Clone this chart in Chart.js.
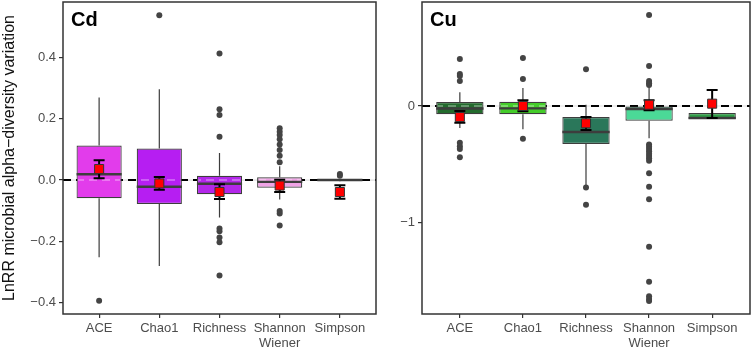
<!DOCTYPE html>
<html>
<head>
<meta charset="utf-8">
<script src="https://cdn.jsdelivr.net/npm/chart.js@4.4.0/dist/chart.umd.min.js"></script>
<style>
  body { margin: 0; background: #fff; }
  canvas { position: absolute; top: 0; }
  #cdChart { left: 0; }
  #cuChart { left: 380px; }
</style>
</head>
<body>
<canvas id="cdChart" width="380" height="352"></canvas>
<canvas id="cuChart" width="371" height="352"></canvas>
<script>
// categories shared by both panels
const categories = ['ACE', 'Chao1', 'Richness', 'Shannon Wiener', 'Simpson'];

// Cd panel
const cdTicks = [-0.4, -0.2, 0, 0.2, 0.4];
const cdQ1 = [-0.059, -0.078, -0.046, -0.025, -0.002];
const cdMedian = [0.019, -0.022, -0.012, -0.006, 0.0];
const cdQ3 = [0.113, 0.103, 0.014, 0.009, 0.001];
const cdWhiskerLow = [-0.252, -0.280, -0.122, -0.063, -0.004];
const cdWhiskerHigh = [0.269, 0.296, 0.088, 0.045, 0.003];
const cdOutliers = [
    [-0.394],
    [0.538],
    [0.413, 0.231, 0.212, 0.141, -0.158, -0.167, -0.187, -0.203, -0.311],
    [0.169, 0.158, 0.147, 0.133, 0.116, 0.098, 0.079, 0.058, -0.101, -0.109, -0.148],
    [0.020, 0.014]
];
const cdMean = [0.036, -0.011, -0.039, -0.018, -0.039];
const cdErrLow = [0.006, -0.032, -0.062, -0.039, -0.061];
const cdErrHigh = [0.065, 0.010, -0.014, 0.001, -0.017];

// Cu panel
const cuTicks = [-1, 0];
const cuQ1 = [-0.071, -0.071, -0.327, -0.126, -0.112];
const cuMedian = [-0.022, -0.020, -0.224, -0.026, -0.103];
const cuQ3 = [0.034, 0.037, -0.095, 0.0, -0.060];
const cuWhiskerLow = [-0.19, -0.20, -0.69, -0.278, -0.112];
const cuWhiskerHigh = [0.118, 0.155, 0.011, 0.161, -0.060];
const cuOutliers = [
    [0.404, 0.275, 0.258, 0.215, -0.315, -0.345, -0.37, -0.441],
    [0.413, 0.232, -0.281],
    [0.315, -0.70, -0.849],
    [0.782, 0.344, 0.215, 0.195, 0.18, -0.33, -0.35, -0.37, -0.39, -0.41, -0.43, -0.45, -0.47,
     -0.579, -0.694, -0.802, -1.21, -1.51, -1.636, -1.66, -1.677],
    []
];
const cuMean = [-0.095, 0.0, -0.149, 0.011, 0.020];
const cuErrLow = [-0.143, -0.046, -0.206, -0.037, -0.103];
const cuErrHigh = [-0.043, 0.049, -0.095, 0.049, 0.138];

const FONT = "'Liberation Sans', Arial, sans-serif";
const LINE = '#3d3d3d';

const fmtMinus = (s) => s.replace('-', '\u2212');

// draws zero line, whiskers, medians, error bars, frame and panel tag
const makeDecor = (p) => ({
    id: 'decor_' + p.tag,
    beforeDatasetsDraw(chart) {
        const {ctx, chartArea: a, scales: {y}} = chart;
        const y0 = y.getPixelForValue(0);
        ctx.save();
        ctx.strokeStyle = 'rgba(205,205,205,0.6)';
        ctx.lineWidth = 1.2;
        ctx.beginPath(); ctx.moveTo(a.left, y0); ctx.lineTo(a.right, y0); ctx.stroke();
        ctx.setLineDash([8, 5]);
        ctx.strokeStyle = '#000';
        ctx.lineWidth = 2;
        ctx.beginPath(); ctx.moveTo(a.left, y0); ctx.lineTo(a.right, y0); ctx.stroke();
        ctx.restore();
    },
    afterDatasetDraw(chart, args) {
        const {ctx, scales: {y}} = chart;
        const bars = chart.getDatasetMeta(0).data;
        ctx.save();
        if (args.index === 0) {
            const y0 = y.getPixelForValue(0);
            bars.forEach((bar, i) => {
                const half = bar.width / 2;
                const top = y.getPixelForValue(p.q3[i]);
                const bottom = y.getPixelForValue(p.q1[i]);
                // faint dashed zero line seen through the box
                ctx.save();
                ctx.beginPath();
                ctx.rect(bar.x - half + 1, top + 1, bar.width - 2, bottom - top - 2);
                ctx.clip();
                ctx.setLineDash([8, 5]);
                ctx.strokeStyle = 'rgba(255,255,255,0.3)';
                ctx.lineWidth = 2;
                ctx.beginPath(); ctx.moveTo(chart.chartArea.left, y0); ctx.lineTo(chart.chartArea.right, y0); ctx.stroke();
                ctx.restore();
                // whiskers
                ctx.strokeStyle = LINE;
                ctx.lineWidth = 1.2;
                ctx.beginPath();
                ctx.moveTo(bar.x, top); ctx.lineTo(bar.x, y.getPixelForValue(p.hi[i]));
                ctx.moveTo(bar.x, bottom); ctx.lineTo(bar.x, y.getPixelForValue(p.lo[i]));
                ctx.stroke();
                // median
                const ym = y.getPixelForValue(p.med[i]);
                ctx.lineWidth = 2.4;
                ctx.beginPath(); ctx.moveTo(bar.x - half, ym); ctx.lineTo(bar.x + half, ym); ctx.stroke();
            });
        }
        if (args.index === 1) {
            // error bars round the means
            ctx.strokeStyle = '#000';
            ctx.lineWidth = 2;
            bars.forEach((bar, i) => {
                const yl = y.getPixelForValue(p.errLo[i]);
                const yh = y.getPixelForValue(p.errHi[i]);
                ctx.beginPath();
                ctx.moveTo(bar.x, yl); ctx.lineTo(bar.x, yh);
                ctx.moveTo(bar.x - 5.5, yl); ctx.lineTo(bar.x + 5.5, yl);
                ctx.moveTo(bar.x - 5.5, yh); ctx.lineTo(bar.x + 5.5, yh);
                ctx.stroke();
            });
        }
        ctx.restore();
    },
    afterDraw(chart) {
        const {ctx, chartArea: a} = chart;
        ctx.save();
        ctx.strokeStyle = '#333';
        ctx.lineWidth = 1.5;
        ctx.strokeRect(a.left, a.top, a.right - a.left, a.bottom - a.top);
        ctx.fillStyle = '#000';
        ctx.font = 'bold 20px ' + FONT;
        ctx.textBaseline = 'alphabetic';
        ctx.fillText(p.tag, a.left + 8, a.top + 23.5);
        ctx.restore();
    }
});

const setupPanel = (canvasId, p) => {
    const canvas = document.getElementById(canvasId);
    const boxes = categories.map((c, i) => ({x: i, y: [p.q1[i], p.q3[i]]}));
    const outliers = [];
    p.outliers.forEach((list, i) => list.forEach(v => outliers.push({x: i, y: v})));
    const means = p.mean.map((v, i) => ({x: i, y: v}));

    return new Chart(canvas.getContext('2d'), {
        type: 'bar',
        data: {
            datasets: [
                {
                    type: 'bar',
                    data: boxes,
                    backgroundColor: p.colors,
                    borderColor: LINE,
                    borderWidth: 1.2,
                    borderSkipped: false,
                    categoryPercentage: 1,
                    barPercentage: 0.75,
                    order: 3
                },
                {
                    type: 'scatter',
                    data: outliers,
                    pointRadius: 3,
                    pointBackgroundColor: '#444',
                    pointBorderWidth: 0,
                    order: 2
                },
                {
                    type: 'scatter',
                    data: means,
                    pointStyle: 'rect',
                    pointRadius: 6.4,
                    pointBackgroundColor: '#ff0000',
                    pointBorderColor: '#333',
                    pointBorderWidth: 1,
                    order: 1
                }
            ]
        },
        options: {
            responsive: false,
            animation: false,
            devicePixelRatio: 1,
            layout: {autoPadding: false, padding: {left: 0, right: p.padRight, top: 2, bottom: 0}},
            plugins: {legend: {display: false}, tooltip: {enabled: false}},
            scales: {
                x: {
                    type: 'linear',
                    min: -0.6,
                    max: 4.6,
                    offset: false,
                    afterBuildTicks: s => { s.ticks = categories.map((c, i) => ({value: i})); },
                    afterFit: s => { s.height = 38; s.paddingLeft = 0; s.paddingRight = 0; },
                    ticks: {
                        autoSkip: false,
                        maxRotation: 0,
                        padding: 3,
                        color: '#4d4d4d',
                        font: {family: FONT, size: 13, lineHeight: 1.15},
                        callback: v => categories[v] ? categories[v].split(' ') : ''
                    },
                    grid: {display: true, offset: false, drawOnChartArea: false, drawTicks: true, tickLength: 4, color: '#333', lineWidth: 1.2},
                    border: {display: false}
                },
                y: {
                    min: p.min,
                    max: p.max,
                    afterBuildTicks: s => { s.ticks = p.ticks.map(v => ({value: v})); },
                    afterFit: s => { s.width = p.axisWidth; s.paddingTop = 0; s.paddingBottom = 0; },
                    ticks: {
                        padding: 3,
                        color: '#4d4d4d',
                        font: {family: FONT, size: 13},
                        callback: v => fmtMinus(v.toFixed(p.decimals))
                    },
                    grid: {display: true, drawOnChartArea: false, drawTicks: true, tickLength: 4, color: '#333', lineWidth: 1.2},
                    border: {display: false},
                    title: {
                        display: !!p.title,
                        text: p.title || '',
                        color: '#111',
                        font: {family: FONT, size: 16},
                        padding: {top: 0, bottom: 0}
                    }
                }
            }
        },
        plugins: [makeDecor(p)]
    });
};

setupPanel('cdChart', {
    tag: 'Cd',
    title: 'LnRR microbial alpha\u2212diversity variation',
    min: -0.437, max: 0.581, ticks: cdTicks, decimals: 1,
    axisWidth: 63, padRight: 4,
    colors: ['#e23ceb', '#b61ef2', '#b327ea', '#f0a3e6', '#8a2aa0'],
    q1: cdQ1, med: cdMedian, q3: cdQ3, lo: cdWhiskerLow, hi: cdWhiskerHigh,
    outliers: cdOutliers, mean: cdMean, errLo: cdErrLow, errHi: cdErrHigh
});

setupPanel('cuChart', {
    tag: 'Cu',
    title: '',
    min: -1.788, max: 0.894, ticks: cuTicks, decimals: 0,
    axisWidth: 42, padRight: 1,
    colors: ['#236b2d', '#44cc2a', '#2a775a', '#4bd997', '#2f9e47'],
    q1: cuQ1, med: cuMedian, q3: cuQ3, lo: cuWhiskerLow, hi: cuWhiskerHigh,
    outliers: cuOutliers, mean: cuMean, errLo: cuErrLow, errHi: cuErrHigh
});
</script>
</body>
</html>
